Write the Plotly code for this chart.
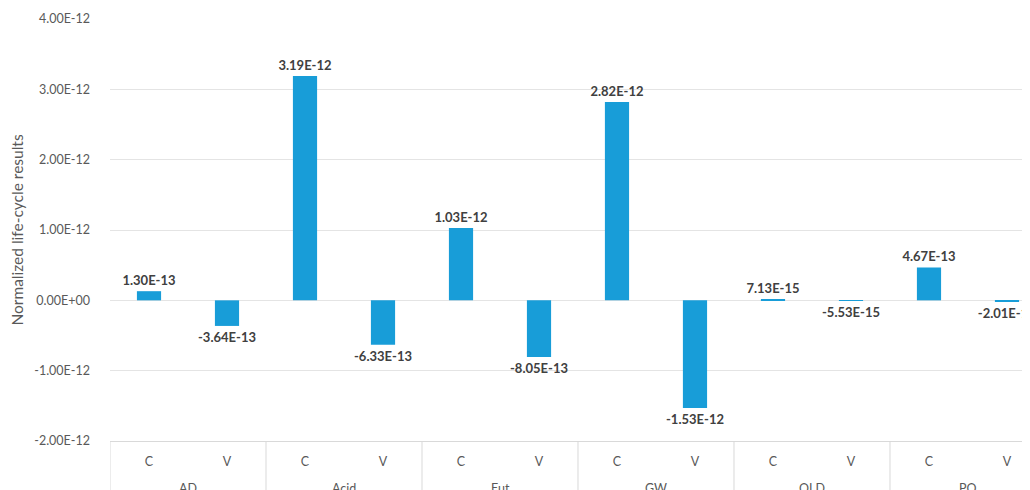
import plotly.graph_objects as go

groups = ["AD", "AD", "Acid", "Acid", "Eut", "Eut", "GW", "GW", "OLD", "OLD", "PO", "PO"]
subcats = ["C", "V", "C", "V", "C", "V", "C", "V", "C", "V", "C", "V"]
values = [1.30e-13, -3.64e-13, 3.19e-12, -6.33e-13, 1.03e-12, -8.05e-13,
          2.82e-12, -1.53e-12, 7.13e-15, -5.53e-15, 4.67e-13, -2.01e-14]
y_tick_vals = [-2e-12, -1e-12, 0, 1e-12, 2e-12, 3e-12, 4e-12]
y_tick_labels = ["-2.00E-12", "-1.00E-12", "0.00E+00", "1.00E-12", "2.00E-12", "3.00E-12", "4.00E-12"]
y_title = "Normalized life-cycle results"

labels = [f"{v:.2E}" for v in values]
positions = list(range(len(values)))

# group spans
group_names = []
group_spans = []
for i, g in enumerate(groups):
    if not group_names or group_names[-1] != g:
        group_names.append(g)
        group_spans.append([i, i])
    else:
        group_spans[-1][1] = i

FONT = "Lato"
GRAY = "#595959"
LINE = "#d9d9d9"

fig = go.Figure(go.Bar(
    x=positions,
    y=values,
    text=labels,
    textposition="outside",
    constraintext="none",
    textfont=dict(family=FONT, size=13, color="#404040", weight="bold"),
    marker=dict(color="#189dd8", line=dict(width=0)),
    width=0.31,
    cliponaxis=False,
))

PLOT_H = 422  # plot area height in px (for paper offsets)
for name, (a, b) in zip(group_names, group_spans):
    fig.add_annotation(
        x=(a + b) / 2, xref="x", y=-47 / PLOT_H, yref="paper",
        text=name, showarrow=False, yanchor="middle",
        font=dict(family=FONT, size=12.5, color=GRAY),
    )
boundaries = [group_spans[0][0] - 0.5] + [b + 0.5 for a, b in group_spans]
for xb in boundaries:
    fig.add_shape(
        type="line", xref="x", yref="paper",
        x0=xb, x1=xb, y0=0, y1=-60 / PLOT_H,
        line=dict(color=LINE, width=1), layer="above",
    )

fig.update_layout(
    width=1022, height=482,
    margin=dict(l=102, r=0, t=11, b=49, autoexpand=False),
    plot_bgcolor="white", paper_bgcolor="white",
    showlegend=False,
    font=dict(family=FONT, color=GRAY, size=12),
)
fig.update_yaxes(
    range=[-2e-12, 4e-12],
    tickvals=y_tick_vals, ticktext=y_tick_labels,
    showgrid=True, gridcolor="#e4e4e4", gridwidth=1,
    zeroline=False, showline=False,
    ticks="", ticklabelstandoff=19,
    tickfont=dict(family=FONT, size=12.5, color=GRAY),
    title=dict(text=y_title, font=dict(family=FONT, size=15.5, color=GRAY), standoff=8),
    automargin=False,
)
fig.update_xaxes(
    range=[-0.5, 11.295],
    tickvals=positions, ticktext=subcats,
    showline=True, linecolor=LINE, linewidth=1,
    ticks="", showgrid=False, zeroline=False, ticklabelstandoff=9,
    tickfont=dict(family=FONT, size=12.5, color=GRAY),
    automargin=False,
)

fig.write_html("out.html")
